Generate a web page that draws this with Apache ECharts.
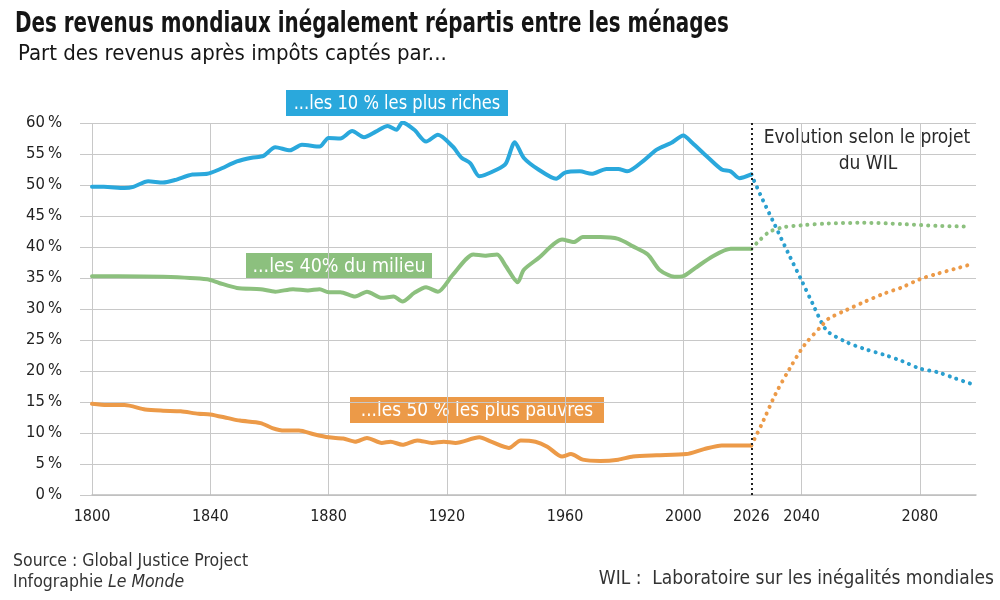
<!DOCTYPE html>
<html lang="fr">
<head>
    <meta charset="UTF-8">
    <title>Revenus mondiaux</title>
    <style>
        html, body { margin: 0; padding: 0; background: #fff; }
        #chart { width: 1000px; height: 600px; }
    </style>
</head>
<body>
<div id="chart"></div>
<script src="https://cdn.jsdelivr.net/npm/echarts@6/dist/echarts.min.js"></script>
<script>
    // police condensée proche de celle du Monde
    var FONT = "'Liberation Sans Narrow', 'DejaVu Sans Condensed', 'Roboto', sans-serif";

    // graduations
    var yearTicks = [1800, 1840, 1880, 1920, 1960, 2000, 2040, 2080];
    var dividerYear = 2023;
    var dividerLabel = '2026';

    // 10 % les plus riches (historique)
    var richYears = [1800, 1804, 1811, 1814, 1819, 1824, 1828, 1834, 1839, 1843, 1849, 1854, 1858, 1862, 1867, 1871, 1877,
        1880, 1884, 1888, 1892, 1896, 1900, 1903, 1905, 1909, 1913, 1917, 1922, 1925, 1928, 1931, 1937, 1940, 1943, 1946,
        1951, 1957, 1960, 1965, 1969, 1974, 1978, 1981, 1987, 1991, 1996, 2000, 2003, 2008, 2013, 2016, 2019, 2023];
    var richShare = [49.7, 49.7, 49.5, 49.7, 50.6, 50.4, 50.8, 51.7, 51.8, 52.5, 53.8, 54.4, 54.7, 56.1, 55.6, 56.5, 56.2,
        57.6, 57.5, 58.7, 57.7, 58.6, 59.5, 58.9, 60.1, 58.9, 57.0, 58.1, 56.2, 54.4, 53.5, 51.4, 52.5, 53.5, 56.9, 54.4,
        52.5, 51.0, 52.0, 52.2, 51.8, 52.6, 52.6, 52.2, 54.1, 55.7, 56.8, 58.0, 56.8, 54.6, 52.5, 52.2, 51.1, 51.7];

    // 40 % du milieu (historique)
    var middleYears = [1800, 1809, 1824, 1839, 1843, 1849, 1857, 1862, 1868, 1873, 1877, 1880, 1884, 1889, 1893, 1898,
        1902, 1905, 1909, 1913, 1917, 1922, 1929, 1933, 1937, 1940, 1944, 1946, 1951, 1959, 1963, 1966, 1972, 1978, 1983,
        1988, 1992, 1997, 2000, 2004, 2010, 2016, 2023];
    var middleShare = [35.3, 35.3, 35.2, 34.8, 34.2, 33.4, 33.2, 32.8, 33.2, 33.0, 33.2, 32.7, 32.7, 32.0, 32.8, 31.8,
        32.0, 31.2, 32.6, 33.5, 32.8, 35.5, 38.8, 38.6, 38.8, 36.9, 34.3, 36.3, 38.2, 41.2, 40.8, 41.6, 41.6, 41.3, 40.1,
        38.8, 36.3, 35.2, 35.3, 36.6, 38.5, 39.7, 39.7];

    // 50 % les plus pauvres (historique)
    var poorYears = [1800, 1805, 1811, 1818, 1824, 1830, 1836, 1840, 1846, 1850, 1857, 1861, 1865, 1870, 1875, 1880,
        1885, 1889, 1893, 1898, 1901, 1905, 1910, 1915, 1919, 1923, 1931, 1935, 1941, 1945, 1950, 1954, 1959, 1962, 1966,
        1972, 1978, 1983, 1991, 2001, 2007, 2013, 2023];
    var poorShare = [14.7, 14.5, 14.5, 13.8, 13.6, 13.5, 13.1, 13.0, 12.4, 12.0, 11.6, 10.8, 10.4, 10.4, 9.8, 9.3,
        9.1, 8.6, 9.2, 8.4, 8.6, 8.1, 8.8, 8.4, 8.6, 8.4, 9.3, 8.6, 7.6, 8.8, 8.6, 7.8, 6.2, 6.6, 5.7,
        5.5, 5.7, 6.2, 6.4, 6.6, 7.4, 8.0, 8.0];

    // projections du WIL
    var richProjYears = [2023, 2026, 2031, 2036, 2040, 2044, 2047, 2049, 2055, 2061, 2068, 2074, 2080, 2086, 2092, 2097];
    var richProjShare = [51.7, 48.5, 43.5, 38.5, 34.6, 30.6, 27.6, 26.3, 24.7, 23.6, 22.6, 21.6, 20.4, 19.8, 18.8, 18.0];
    var middleProjYears = [2023, 2025, 2029, 2034, 2040, 2049, 2061, 2074, 2086, 2096];
    var middleProjShare = [39.7, 40.7, 42.4, 43.2, 43.5, 43.8, 43.9, 43.7, 43.4, 43.3];
    var poorProjYears = [2023, 2027, 2031, 2036, 2041, 2047, 2049, 2055, 2061, 2068, 2074, 2080, 2086, 2092, 2098];
    var poorProjShare = [8.0, 11.9, 16.1, 20.4, 24.2, 27.4, 28.4, 29.8, 31.1, 32.5, 33.5, 34.8, 35.7, 36.5, 37.3];

    var BLUE = '#2aa8dc', GREEN = '#8cc07e', ORANGE = '#ec9a48';

    function pairs(xs, ys) {
        var out = [];
        for (var i = 0; i < xs.length; i++) { out.push([xs[i], ys[i]]); }
        return out;
    }

    function solid(name, xs, ys, color) {
        return {
            name: name, type: 'line', data: pairs(xs, ys), showSymbol: false, smooth: 0.25,
            lineStyle: { color: color, width: 4, cap: 'round', join: 'round' }, z: 3
        };
    }

    function dotted(name, xs, ys, color) {
        return {
            name: name, type: 'line', data: pairs(xs, ys), showSymbol: false, smooth: 0.3,
            lineStyle: { color: color, width: 4, type: [0.1, 7], cap: 'round' }, z: 2
        };
    }

    // étiquette colorée posée sur le graphique
    function tag(x, y, w, h, text, color, squeeze) {
        return {
            type: 'group', left: x, top: y, children: [
                { type: 'rect', shape: { x: 0, y: 0, width: w, height: h }, style: { fill: color } },
                {
                    type: 'text', x: w / 2, y: h / 2 + 1, scaleX: squeeze,
                    style: { text: text, fill: '#fff', font: '19.5px ' + FONT, textAlign: 'center', textVerticalAlign: 'middle' }
                }
            ]
        };
    }

    var richLine = solid('10 %', richYears, richShare, BLUE);
    richLine.markLine = {
        silent: true, symbol: ['none', 'none'], animation: false,
        lineStyle: { color: '#222', type: [2, 3], width: 2 },
        label: { show: true, position: 'start', formatter: dividerLabel, color: '#222', fontSize: 16, fontFamily: FONT, distance: 14 },
        data: [{ xAxis: dividerYear }]
    };

    var option = {
        backgroundColor: '#fff',
        animation: false,
        textStyle: { fontFamily: FONT },
        grid: { left: 92, right: 24, top: 123, bottom: 105 },
        xAxis: {
            type: 'value', min: 1800, max: 2099, interval: 40,
            axisLine: { lineStyle: { color: '#bdbdbd', width: 1.5 } },
            axisTick: { show: false },
            axisLabel: {
                margin: 14, color: '#222', fontSize: 16, fontFamily: FONT, showMaxLabel: false,
                formatter: function (v) { return yearTicks.indexOf(v) >= 0 ? String(v) : ''; }
            },
            splitLine: { show: true, showMaxLine: false, lineStyle: { color: '#c8c8c8', width: 1 } }
        },
        yAxis: {
            type: 'value', min: 0, max: 60, interval: 5,
            axisLine: { show: false },
            axisTick: { show: true, inside: false, length: 12, lineStyle: { color: '#c8c8c8' } },
            axisLabel: {
                margin: 30, color: '#222', fontSize: 16.5, fontFamily: FONT,
                formatter: function (v) { return v + '\u2009%'; }
            },
            splitLine: { lineStyle: { color: '#c8c8c8', width: 1 } }
        },
        series: [
            dotted('10 % proj', richProjYears, richProjShare, '#2a9fcf'),
            dotted('40 % proj', middleProjYears, middleProjShare, GREEN),
            dotted('50 % proj', poorProjYears, poorProjShare, ORANGE),
            richLine,
            solid('40 %', middleYears, middleShare, GREEN),
            solid('50 %', poorYears, poorShare, ORANGE)
        ],
        graphic: [
            // titre, resserré horizontalement comme la police du journal
            {
                type: 'text', x: 15, y: 11, scaleX: 0.79,
                style: { text: 'Des revenus mondiaux inégalement répartis entre les ménages', fill: '#151515', font: 'bold 28px ' + FONT }
            },
            {
                type: 'text', x: 18, y: 43,
                style: { text: 'Part des revenus après impôts captés par...', fill: '#151515', font: '22px ' + FONT }
            },
            tag(286, 90, 222, 26, '...les 10 % les plus riches', BLUE, 0.93),
            tag(246, 253, 186, 26, '...les 40% du milieu', GREEN, 1),
            tag(350, 397, 254, 26, '...les 50 % les plus pauvres', ORANGE, 0.97),
            {
                type: 'text', x: 867, y: 129,
                style: { text: 'Evolution selon le projet', fill: '#2a2a2a', font: '19px ' + FONT, textAlign: 'center' }
            },
            {
                type: 'text', x: 868, y: 155,
                style: { text: 'du WIL', fill: '#2a2a2a', font: '19px ' + FONT, textAlign: 'center' }
            },
            {
                type: 'text', left: 13, top: 552,
                style: { text: 'Source : Global Justice Project', fill: '#333', font: '17.5px ' + FONT }
            },
            {
                type: 'text', left: 13, top: 573,
                style: {
                    text: '{a|Infographie }{b|Le Monde}', fill: '#333', font: '17.5px ' + FONT,
                    rich: { a: { fontSize: 17.5, fontFamily: FONT, color: '#333' }, b: { fontSize: 17.5, fontFamily: FONT, fontStyle: 'italic', color: '#333' } }
                }
            },
            {
                type: 'text', right: 6, top: 570,
                style: { text: 'WIL :  Laboratoire sur les inégalités mondiales', fill: '#333', font: '19px ' + FONT }
            }
        ]
    };

    var myChart = echarts.init(document.getElementById('chart'));
    myChart.setOption(option);
</script>
</body>
</html>
